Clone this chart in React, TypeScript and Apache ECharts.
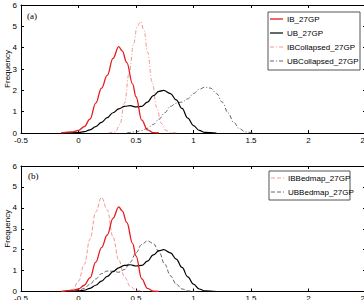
import React, { useEffect, useRef } from "react";
import * as echarts from "echarts";

// IB_27GP (red solid)
const ibX = [-0.15, -0.05, 0, 0.05, 0.1, 0.15, 0.2, 0.25, 0.3, 0.35, 0.38, 0.42, 0.47, 0.5, 0.55, 0.6, 0.65, 0.7];
const ibY = [0, 0.05, 0.12, 0.3, 0.65, 1.4, 2.1, 2.7, 3.5, 4.05, 3.85, 3.3, 2.3, 1.7, 0.6, 0.15, 0.02, 0];
// UB_27GP (black solid)
const ubX = [-0.15, 0, 0.05, 0.1, 0.15, 0.2, 0.25, 0.3, 0.35, 0.4, 0.45, 0.5, 0.55, 0.6, 0.65, 0.7, 0.74, 0.8, 0.85, 0.9, 0.95, 1.0, 1.05, 1.1, 1.2];
const ubY = [0, 0.02, 0.06, 0.15, 0.3, 0.5, 0.72, 0.95, 1.13, 1.25, 1.28, 1.22, 1.25, 1.45, 1.75, 1.95, 2.0, 1.85, 1.55, 1.15, 0.7, 0.35, 0.12, 0.03, 0];
// IBCollapsed_27GP (pink dash-dot)
const ibcX = [0.26, 0.32, 0.36, 0.4, 0.44, 0.48, 0.51, 0.54, 0.57, 0.6, 0.64, 0.68, 0.72, 0.76, 0.8, 0.86];
const ibcY = [0, 0.05, 0.4, 1.4, 2.8, 4.2, 5.0, 5.22, 4.8, 3.8, 2.4, 1.2, 0.45, 0.12, 0.02, 0];
// UBCollapsed_27GP (grey dash-dot)
const ubcX = [0.42, 0.5, 0.55, 0.6, 0.65, 0.7, 0.75, 0.8, 0.85, 0.9, 0.95, 1.0, 1.05, 1.1, 1.15, 1.2, 1.25, 1.3, 1.35, 1.4, 1.45, 1.52];
const ubcY = [0, 0.05, 0.12, 0.22, 0.4, 0.65, 0.95, 1.25, 1.4, 1.45, 1.6, 1.85, 2.05, 2.15, 2.1, 1.85, 1.45, 0.95, 0.5, 0.2, 0.05, 0];
// IBBedmap_27GP (pink dashed)
const ibbX = [-0.12, -0.05, 0, 0.05, 0.1, 0.15, 0.2, 0.25, 0.3, 0.35, 0.4, 0.45, 0.5, 0.56];
const ibbY = [0, 0.1, 0.5, 1.3, 2.5, 3.8, 4.5, 3.9, 2.6, 1.5, 0.7, 0.25, 0.06, 0];
// UBBedmap_27GP (grey dashed)
const ubbX = [-0.08, 0, 0.05, 0.1, 0.15, 0.2, 0.25, 0.3, 0.35, 0.4, 0.45, 0.5, 0.55, 0.6, 0.65, 0.7, 0.75, 0.8, 0.85, 0.9, 0.95, 1.02];
const ubbY = [0, 0.05, 0.15, 0.35, 0.6, 0.85, 0.98, 0.97, 0.92, 1.05, 1.4, 1.85, 2.25, 2.42, 2.3, 1.9, 1.3, 0.75, 0.35, 0.12, 0.03, 0];

const panelLabels = ["(a)", "(b)"];
const yName = "Frequency";
const legendA = ["IB_27GP", "UB_27GP", "IBCollapsed_27GP", "UBCollapsed_27GP"];
const legendB = ["IBBedmap_27GP", "UBBedmap_27GP"];

const zip = (xs: number[], ys: number[]) => xs.map((x, i) => [x, ys[i]]);

export default function App() {
  const ref = useRef<HTMLDivElement>(null);
  useEffect(() => {
    if (!ref.current) return;
    const chart = echarts.init(ref.current, undefined, { renderer: "svg" });
    const font = "Liberation Sans, Arial, sans-serif";
    const grids = [
      { left: 21, top: 5, width: 345, height: 128, outerBoundsMode: "none", containLabel: false },
      { left: 21, top: 166, width: 345, height: 125.5, outerBoundsMode: "none", containLabel: false },
    ];
    const xAxes: any[] = [];
    const yAxes: any[] = [];
    [0, 1].forEach((g) => {
      xAxes.push({
        type: "value", gridIndex: g, position: "bottom", min: -0.5, max: 2.5, interval: 0.5,
        axisLine: { show: true, onZero: false, lineStyle: { color: "#000", width: 1 } },
        axisTick: { show: true, inside: true, length: 3, lineStyle: { color: "#000" } },
        axisLabel: { show: true, color: "#000", fontSize: 8, fontFamily: font, margin: 3 },
        splitLine: { show: false },
      });
      xAxes.push({
        type: "value", gridIndex: g, position: "top", min: -0.5, max: 2.5, interval: 0.5,
        axisLine: { show: true, onZero: false, lineStyle: { color: "#000", width: 1 } },
        axisTick: { show: true, inside: true, length: 3, lineStyle: { color: "#000" } },
        axisLabel: { show: false },
        splitLine: { show: false },
      });
      yAxes.push({
        type: "value", gridIndex: g, position: "left", min: 0, max: 6, interval: 1,
        name: yName, nameLocation: "middle", nameGap: 10, nameRotate: 90, nameMoveOverlap: false,
        nameTextStyle: { color: "#000", fontSize: 8, fontFamily: font },
        axisLine: { show: true, onZero: false, lineStyle: { color: "#000", width: 1 } },
        axisTick: { show: true, inside: true, length: 3, lineStyle: { color: "#000" } },
        axisLabel: { show: true, color: "#000", fontSize: 8, fontFamily: font, margin: 4 },
        splitLine: { show: false },
      });
      yAxes.push({
        type: "value", gridIndex: g, position: "right", min: 0, max: 6, interval: 1,
        axisLine: { show: true, onZero: false, lineStyle: { color: "#000", width: 1 } },
        axisTick: { show: true, inside: true, length: 3, lineStyle: { color: "#000" } },
        axisLabel: { show: false },
        splitLine: { show: false },
      });
    });
    const mk = (name: string, xs: number[], ys: number[], g: number, color: string, width: number, type: any) => ({
      name, type: "line", xAxisIndex: g * 2, yAxisIndex: g * 2, data: zip(xs, ys),
      smooth: 0.4, smoothMonotone: "x", symbol: "none", showSymbol: false,
      lineStyle: { color, width, type }, itemStyle: { color },
    });
    const red = "#e41a1c";
    const pink = "#f08a8a";
    const grey = "#555555";
    const dashDot = [4, 2, 1, 2];
    const dashed = [4, 2];

    const legendStyles = [
      [{ c: red, w: 1.3, d: null }, { c: "#000", w: 1.2, d: null }, { c: pink, w: 0.9, d: dashDot }, { c: grey, w: 0.9, d: dashDot }],
      [{ c: pink, w: 0.9, d: dashed }, { c: grey, w: 0.9, d: dashed }],
    ];
    const legendBox = [
      { x: 268, y: 12, w: 92, h: 58, first: 19 },
      { x: 269, y: 171, w: 81, h: 29, first: 178 },
    ];
    const graphics: any[] = [];
    [legendA, legendB].forEach((names, li) => {
      const b = legendBox[li];
      graphics.push({ type: "rect", shape: { x: b.x, y: b.y, width: b.w, height: b.h }, style: { fill: "#fff", stroke: "#555", lineWidth: 1 }, z: 100 });
      names.forEach((n, i) => {
        const y = b.first + i * 14;
        const s = legendStyles[li][i];
        graphics.push({ type: "line", shape: { x1: b.x + 2, y1: y, x2: b.x + 15, y2: y }, style: { stroke: s.c, lineWidth: s.w, lineDash: s.d || undefined }, z: 101 });
        graphics.push({ type: "text", x: b.x + 19, y, style: { text: n, fontSize: 8, fontFamily: font, fill: "#000", verticalAlign: "middle", align: "left" }, z: 101 });
      });
    });
    graphics.push({ type: "text", x: 27, y: 11, style: { text: panelLabels[0], fontSize: 9, fontFamily: "Liberation Serif, serif", fill: "#000" }, z: 101 });
    graphics.push({ type: "text", x: 28, y: 171, style: { text: panelLabels[1], fontSize: 9, fontFamily: "Liberation Serif, serif", fill: "#000" }, z: 101 });

    chart.setOption({
      animation: false,
      backgroundColor: "#fff",
      grid: grids,
      xAxis: xAxes,
      yAxis: yAxes,
      graphic: graphics,
      series: [
        mk("UBCollapsed_27GP", ubcX, ubcY, 0, grey, 0.9, dashDot),
        mk("IBCollapsed_27GP", ibcX, ibcY, 0, pink, 0.9, dashDot),
        mk("UB_27GP", ubX, ubY, 0, "#000", 1.2, "solid"),
        mk("IB_27GP", ibX, ibY, 0, red, 1.3, "solid"),
        mk("UBBedmap_27GP", ubbX, ubbY, 1, grey, 0.9, dashed),
        mk("IBBedmap_27GP", ibbX, ibbY, 1, pink, 0.9, dashed),
        mk("UB_27GP b", ubX, ubY, 1, "#000", 1.2, "solid"),
        mk("IB_27GP b", ibX, ibY, 1, red, 1.3, "solid"),
      ],
    });
    return () => chart.dispose();
  }, []);
  return <div ref={ref} style={{ position: "fixed", left: 0, top: 0, width: 364, height: 300 }} />;
}
